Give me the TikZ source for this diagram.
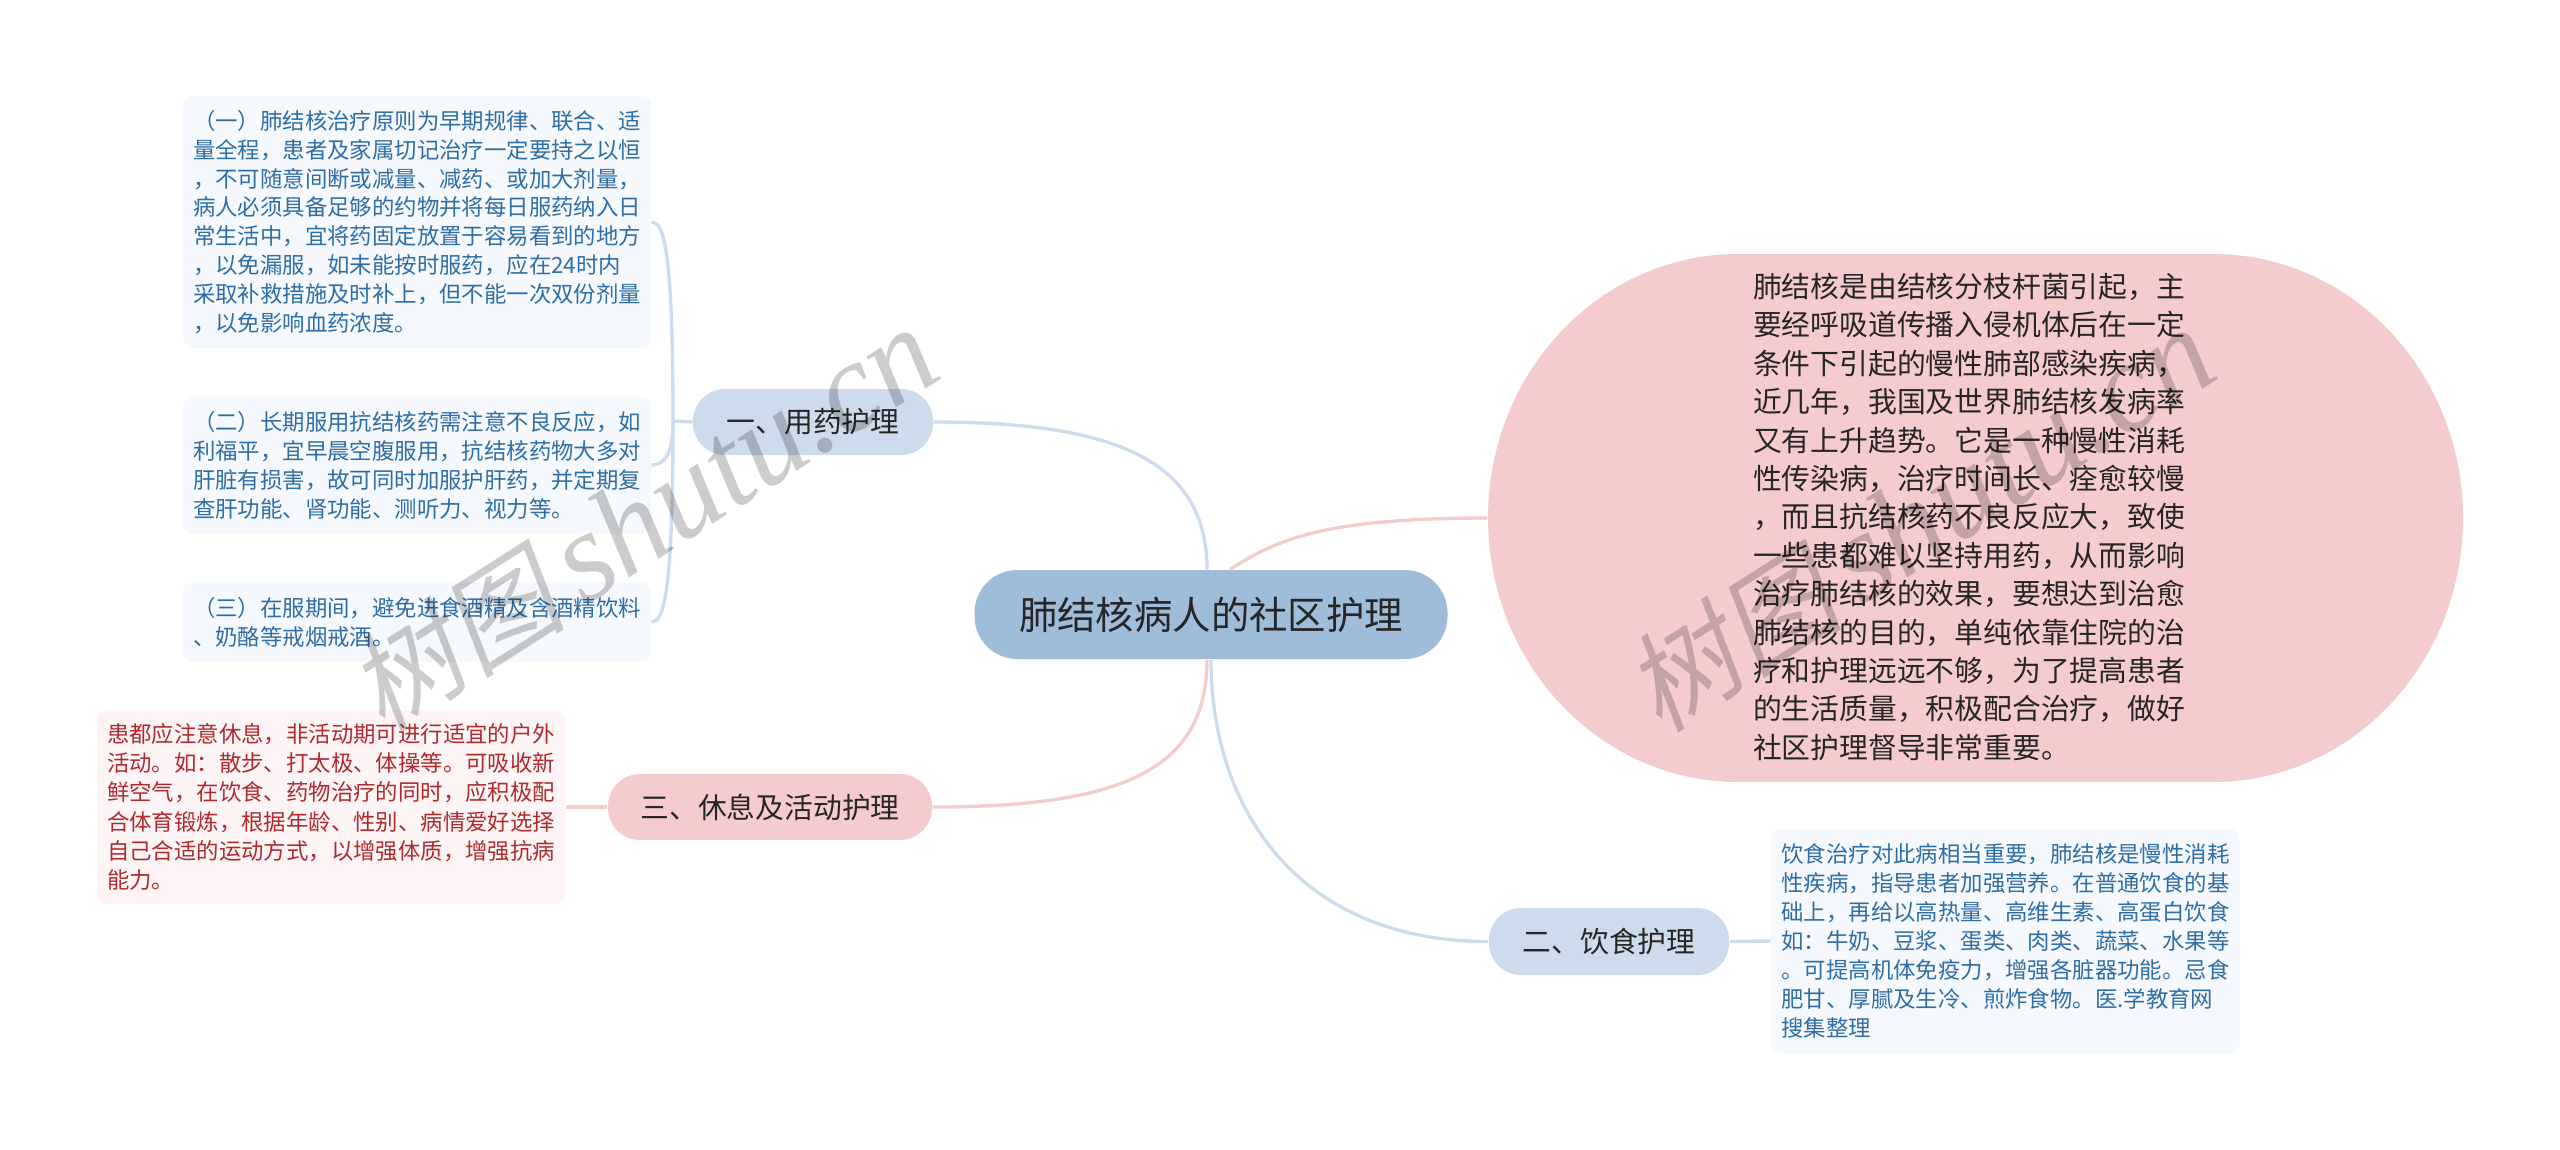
\documentclass[tikz,border=0pt]{standalone}
\usepackage{fontspec}
\setmainfont{Noto Sans CJK SC}
\newfontfamily\wmlatin{Liberation Serif}[Ligatures=TeX]
\newfontfamily\wmcjk{Noto Sans CJK SC}[FakeSlant=0.2]
\tikzset{
  x=.375pt,y=-.375pt,
  dim/.style 2 args={minimum width=#1*.375pt,minimum height=#2*.375pt},
  root/.style={fill=rootblue,rounded corners=16pt,inner sep=0pt,font=\fontsize{14.4}{18}\selectfont,text=black!85},
  branchblue/.style={fill=lightblue,rounded corners=12pt,inner sep=0pt,font=\fontsize{10.8}{14}\selectfont,text=black!85},
  branchpink/.style={fill=lightpink,rounded corners=12pt,inner sep=0pt,font=\fontsize{10.8}{14}\selectfont,text=black!85},
  leafblue/.style={fill=paleblue,rounded corners=3.75pt,inner sep=0pt,align=left,text=leaftext,font=\fontsize{8.4}{10.84}\selectfont},
  leafpink/.style={fill=palepink,rounded corners=3.75pt,inner sep=0pt,align=left,text=leafred,font=\fontsize{8.4}{11}\selectfont},
  bigtext/.style={inner sep=0pt,align=left,text=black!85,font=\fontsize{10.8}{14.4}\selectfont},
  linkblue/.style={draw=lightblue,line width=1.25pt},
  linkpink/.style={draw=lightpink,line width=1.25pt},
  watermark/.style={rotate=32.5,text=black,opacity=.2,inner sep=0pt},
}
\definecolor{rootblue}{HTML}{9FBDD9}
\definecolor{lightblue}{HTML}{CCDCEC}
\definecolor{lightpink}{HTML}{F5CCCD}
\definecolor{paleblue}{HTML}{F5F8FC}
\definecolor{palepink}{HTML}{FDF5F5}
\definecolor{leaftext}{HTML}{2F6EA5}
\definecolor{leafred}{HTML}{AE2A2E}
\begin{document}
\begin{tikzpicture}
\useasboundingbox (0,0) rectangle (2560,1149);
% big pink shape
\fill[lightpink] (1738,254) -- (2213,254)
  .. controls (2351,254) and (2463,372) .. (2463,518)
  .. controls (2463,664) and (2351,782) .. (2213,782)
  -- (1738,782)
  .. controls (1600,782) and (1488,664) .. (1488,518)
  .. controls (1488,372) and (1600,254) .. (1738,254) -- cycle;
\node[inner sep=0pt,dim={975}{528}] (bigarea) at (1975.5,518) {};
\node[bigtext] (big) at (1969,517) {肺结核是由结核分枝杆菌引起，主\\要经呼吸道传播入侵机体后在一定\\条件下引起的慢性肺部感染疾病，\\近几年，我国及世界肺结核发病率\\又有上升趋势。它是一种慢性消耗\\性传染病，治疗时间长、痊愈较慢\\，而且抗结核药不良反应大，致使\\一些患都难以坚持用药，从而影响\\治疗肺结核的效果，要想达到治愈\\肺结核的目的，单纯依靠住院的治\\疗和护理远远不够，为了提高患者\\的生活质量，积极配合治疗，做好\\社区护理督导非常重要。};
\node[root,dim={473}{89}] (rootn) at (1211,614.5) {肺结核病人的社区护理};
\node[branchblue,dim={240}{66}] (n1) at (813,422) {一、用药护理};
\node[branchpink,dim={324}{66}] (n3) at (770,807) {三、休息及活动护理};
\node[branchblue,dim={240}{67}] (n2) at (1609,941.5) {二、饮食护理};
\node[leafblue,dim={468}{252}] (l1) at (417,222) {（一）肺结核治疗原则为早期规律、联合、适\\量全程，患者及家属切记治疗一定要持之以恒\\，不可随意间断或减量、减药、或加大剂量，\\病人必须具备足够的约物并将每日服药纳入日\\常生活中，宜将药固定放置于容易看到的地方\\，以免漏服，如未能按时服药，应在24时内\\采取补救措施及时补上，但不能一次双份剂量\\，以免影响血药浓度。};
\node[leafblue,dim={468}{137}] (l2) at (417,465) {（二）长期服用抗结核药需注意不良反应，如\\利福平，宜早晨空腹服用，抗结核药物大多对\\肝脏有损害，故可同时加服护肝药，并定期复\\查肝功能、肾功能、测听力、视力等。};
\node[leafblue,dim={468}{80}] (l3) at (417,622) {（三）在服期间，避免进食酒精及含酒精饮料\\、奶酪等戒烟戒酒。};
\node[leafpink,dim={468}{194}] (l4) at (331,807) {患都应注意休息，非活动期可进行适宜的户外\\活动。如：散步、打太极、体操等。可吸收新\\鲜空气，在饮食、药物治疗的同时，应积极配\\合体育锻炼，根据年龄、性别、病情爱好选择\\自己合适的运动方式，以增强体质，增强抗病\\能力。};
\node[leafblue,dim={469}{224}] (l5) at (2005.5,941) {饮食治疗对此病相当重要，肺结核是慢性消耗\\性疾病，指导患者加强营养。在普通饮食的基\\础上，再给以高热量、高维生素、高蛋白饮食\\如：牛奶、豆浆、蛋类、肉类、蔬菜、水果等\\。可提高机体免疫力，增强各脏器功能。忌食\\肥甘、厚腻及生冷、煎炸食物。医.学教育网\\搜集整理};
\coordinate (spine) at (673,421);
\coordinate (rootleft) at ([xshift=-1.5pt]rootn.north);
\coordinate (rootright) at ([xshift=7pt]rootn.north);
\coordinate (rootlow) at ([xshift=-1.5pt]rootn.south);
% connectors
\draw[linkblue] (n1.east) .. controls +(180,0) and +(0,-110) .. (rootleft);
\draw[linkpink] (bigarea.west) .. controls +(-170,0) and +(45,-28) .. (rootright);
\draw[linkpink] (n3.east) .. controls +(190,0) and +(0,110) .. (rootlow);
\draw[linkblue] (n2.west) .. controls +(-190,0) and +(0,150) .. (rootn.south);
\draw[linkblue] (n1.west) -- (spine);
\draw[linkblue] (spine) .. controls +(0,-175) and +(12,0) .. (l1.east);
\draw[linkblue] (spine) .. controls +(0,35) and +(12,0) .. (l2.east);
\draw[linkblue] (spine) .. controls +(0,175) and +(12,0) .. (l3.east);
\draw[linkpink] (n3.west) -- (l4.east);
\draw[linkblue] (n2.east) -- (l5.west);
% watermarks
\node[watermark] (wm1) at (643,520) {{\fontsize{41}{44}\selectfont\wmcjk 树图}\hspace{7pt}{\fontsize{48}{50}\selectfont\wmlatin\itshape shutu.cn}};
\node[watermark] (wm2) at (1920,520) {{\fontsize{41}{44}\selectfont\wmcjk 树图}\hspace{7pt}{\fontsize{48}{50}\selectfont\wmlatin\itshape shutu.cn}};
\end{tikzpicture}
\end{document}
